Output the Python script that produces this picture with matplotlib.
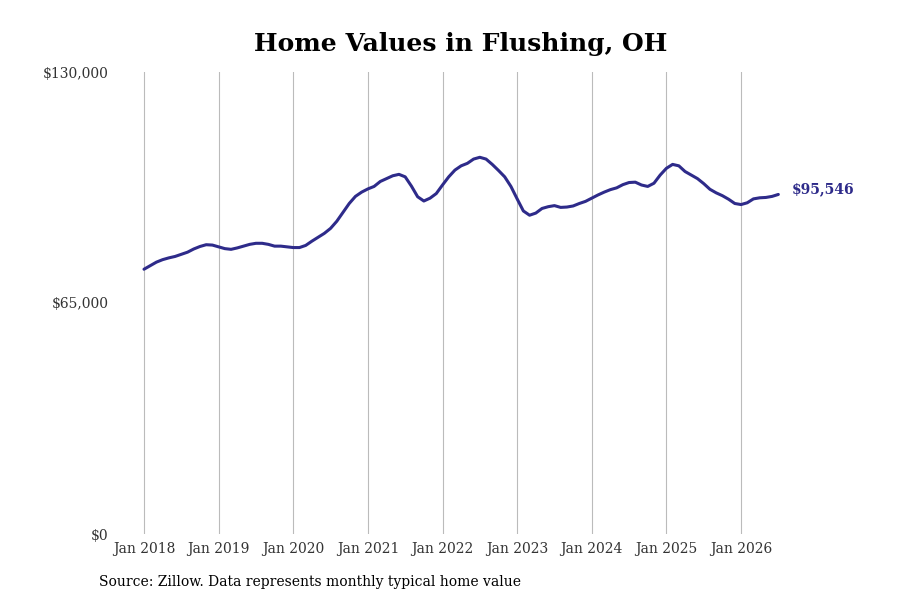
import numpy as np
import matplotlib.pyplot as plt

# === DATA (monthly typical home value, Jan 2018 - Jul 2026) ===
values_2018 = [74.5, 75.5, 76.5, 77.2, 77.7, 78.1, 78.7, 79.3, 80.2, 80.9, 81.4, 81.3]
values_2019 = [80.8, 80.3, 80.1, 80.5, 81.0, 81.5, 81.8, 81.8, 81.5, 81.0, 81.0, 80.8]
values_2020 = [80.6, 80.6, 81.2, 82.4, 83.5, 84.6, 86.0, 88.0, 90.5, 93.0, 95.0, 96.2]
values_2021 = [97.1, 97.8, 99.2, 100.0, 100.8, 101.2, 100.5, 97.9, 94.9, 93.7, 94.5, 95.8]
values_2022 = [98.2, 100.5, 102.4, 103.6, 104.3, 105.5, 106.0, 105.5, 104.0, 102.3, 100.5, 97.8]
values_2023 = [94.3, 90.9, 89.7, 90.3, 91.6, 92.1, 92.4, 91.9, 92.0, 92.3, 93.0, 93.6]
values_2024 = [94.5, 95.4, 96.2, 96.9, 97.4, 98.3, 98.9, 99.0, 98.2, 97.8, 98.7, 101.0]
values_2025 = [102.9, 104.0, 103.6, 102.0, 101.0, 100.0, 98.6, 97.0, 96.0, 95.2, 94.2, 93.0]
values_2026 = [92.7, 93.2, 94.3, 94.6, 94.7, 95.0, 95.546]

tick_labels = ["Jan 2018", "Jan 2019", "Jan 2020", "Jan 2021", "Jan 2022",
               "Jan 2023", "Jan 2024", "Jan 2025", "Jan 2026"]
y_ticks = [0, 65000, 130000]
y_tick_labels = ["$0", "$65,000", "$130,000"]

values = np.array(values_2018 + values_2019 + values_2020 + values_2021 + values_2022
                  + values_2023 + values_2024 + values_2025 + values_2026) * 1000
months = np.arange(len(values))

# === PLOT ===
plt.rcParams['font.family'] = ['DejaVu Serif']
line_color = '#2e2b8a'

fig = plt.figure(figsize=(9, 6), dpi=100)
ax = fig.add_axes([0.13, 0.11, 0.74, 0.77])

ax.plot(months, values, color=line_color, linewidth=2.2, solid_capstyle='round')

ax.set_xlim(-4.34, 102.75)
ax.set_ylim(0, 130000)
ax.set_xticks(np.arange(0, 97, 12))
ax.set_xticklabels(tick_labels)
ax.set_yticks(y_ticks)
ax.set_yticklabels(y_tick_labels)
ax.tick_params(axis='both', length=0, labelsize=10, colors='#333333')
ax.tick_params(axis='x', pad=6)
ax.tick_params(axis='y', pad=6)

ax.grid(axis='x', color='#bbbbbb', linewidth=0.8)
ax.grid(axis='y', visible=False)
for s in ax.spines.values():
    s.set_visible(False)

ax.annotate(f"${values[-1]:,.0f}", xy=(months[-1], values[-1]), xytext=(10, 4),
            textcoords='offset points', va='center', ha='left',
            fontsize=10, fontweight='bold', color=line_color, annotation_clip=False)

fig.text(0.512, 0.927, "Home Values in Flushing, OH", ha='center', va='center',
         fontsize=18, fontweight='bold', color='black')
fig.text(0.11, 0.03, "Source: Zillow. Data represents monthly typical home value",
         ha='left', va='center', fontsize=10, color='black')

plt.savefig("out.png", dpi=100)
